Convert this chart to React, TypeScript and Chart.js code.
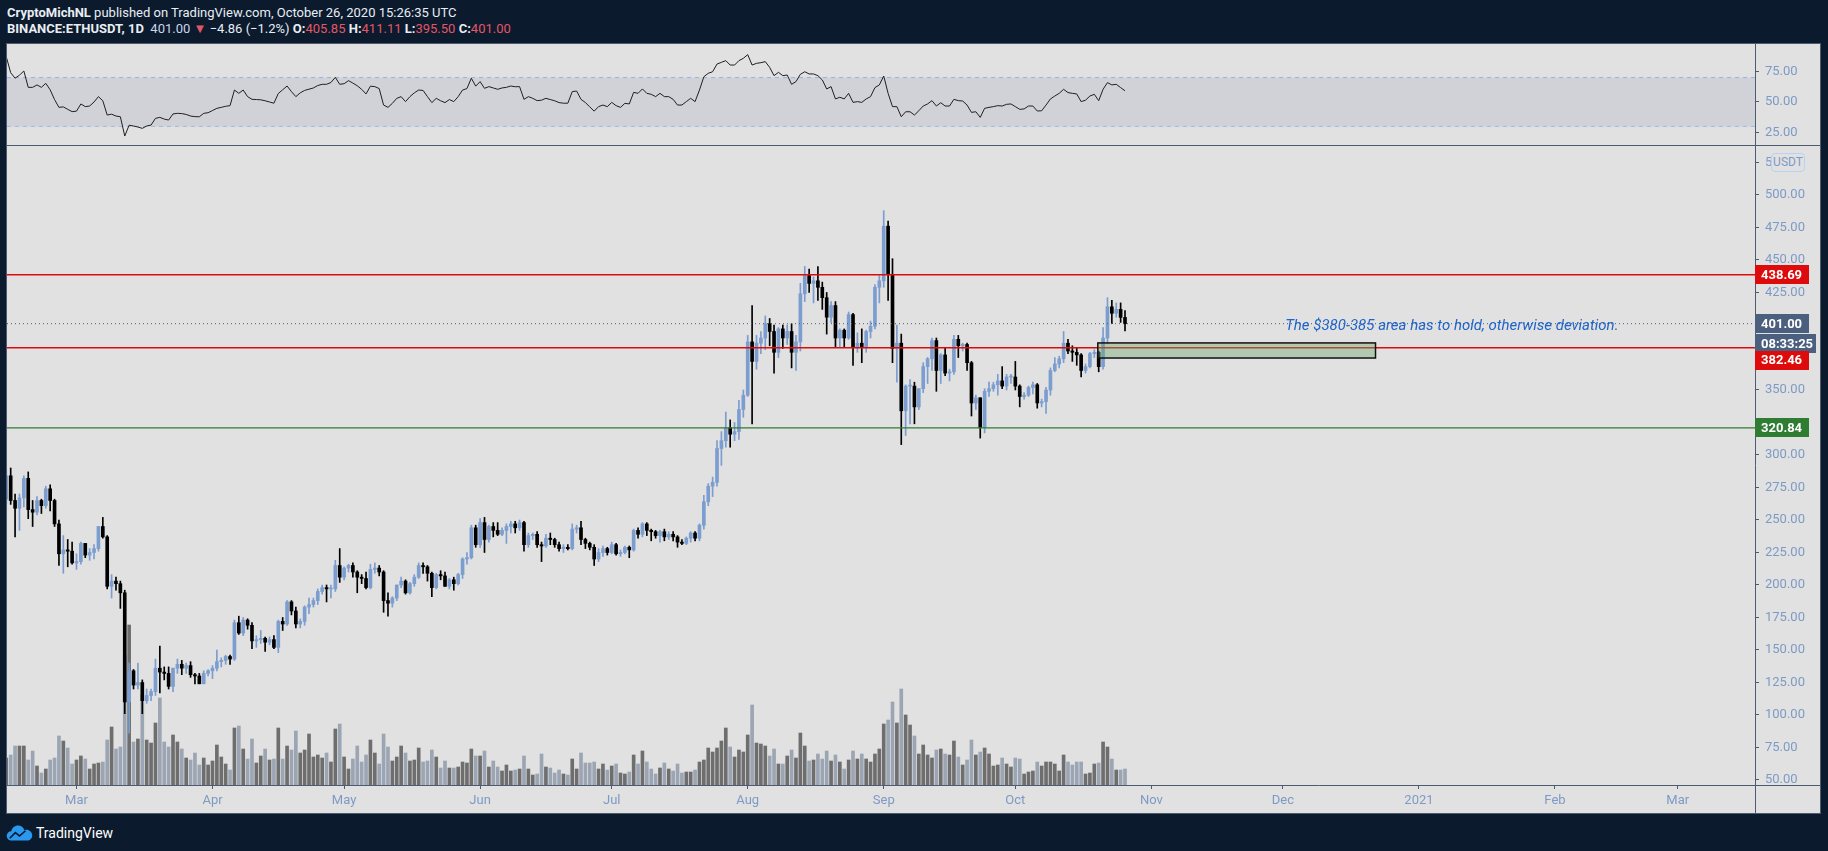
import React, { useEffect, useRef } from 'react';
import { Chart, registerables } from 'chart.js';

Chart.register(...registerables);

// ---------------- DATA (BINANCE:ETHUSDT, 1D, from 2020-02-14) ----------------
// each candle: [open, high, low, close]
const feb2020 = [
  [266, 288, 262, 284], [284, 290, 262, 265], [265, 270, 237, 259], [259, 270, 242, 267],
  [267, 284, 260, 282], [282, 287, 251, 258], [258, 265, 245, 256], [256, 268, 254, 265],
  [265, 266, 255, 261], [261, 276, 259, 274], [274, 277, 257, 265], [265, 266, 245, 247],
  [247, 250, 215, 224], [224, 238, 209, 227], [227, 235, 214, 226], [226, 233, 216, 217],
];
const mar2020 = [
  [217, 224, 212, 218], [218, 233, 216, 232], [232, 232, 221, 223], [223, 228, 219, 225],
  [225, 231, 220, 228], [228, 245, 226, 245], [245, 252, 236, 237], [237, 238, 197, 199],
  [199, 208, 190, 203], [203, 206, 196, 201], [201, 203, 182, 194], [194, 196, 101, 110],
  [110, 140, 86, 134], [134, 135, 120, 123], [123, 140, 120, 125], [125, 127, 101, 111],
  [111, 120, 109, 115], [115, 120, 111, 118], [118, 143, 115, 136], [136, 153, 117, 133],
  [133, 137, 127, 132], [132, 137, 120, 122], [122, 136, 118, 136], [136, 143, 132, 139],
  [139, 142, 131, 136], [136, 140, 132, 138], [138, 141, 129, 131], [131, 132, 124, 130],
  [130, 132, 124, 124], [124, 134, 124, 132], [132, 135, 130, 134],
];
const apr2020 = [
  [134, 138, 128, 136], [136, 150, 134, 141], [141, 144, 137, 142], [142, 146, 139, 145],
  [145, 146, 139, 143], [143, 173, 142, 171], [171, 176, 162, 163], [163, 175, 161, 173],
  [173, 174, 166, 169], [169, 171, 151, 157], [157, 161, 152, 158], [158, 165, 155, 159],
  [159, 160, 149, 156], [156, 160, 154, 158], [158, 161, 151, 152], [152, 173, 148, 172],
  [172, 175, 165, 170], [170, 188, 169, 187], [187, 188, 177, 180], [180, 183, 167, 170],
  [170, 174, 167, 172], [172, 184, 169, 183], [183, 190, 178, 185], [185, 190, 183, 188],
  [188, 197, 185, 195], [195, 200, 193, 198], [198, 200, 187, 197], [197, 200, 190, 197],
  [197, 219, 195, 215], [215, 228, 202, 206],
];
const may2020 = [
  [206, 214, 204, 213], [213, 216, 210, 215], [215, 217, 206, 210], [210, 211, 194, 206],
  [206, 208, 201, 205], [205, 210, 197, 198], [198, 216, 197, 212], [212, 217, 209, 213],
  [213, 215, 207, 210], [210, 211, 179, 188], [188, 194, 176, 186], [186, 191, 183, 190],
  [190, 200, 188, 200], [200, 206, 198, 203], [203, 204, 193, 194], [194, 202, 193, 201],
  [201, 208, 199, 206], [206, 217, 205, 215], [215, 217, 209, 214], [214, 215, 203, 209],
  [209, 210, 191, 198], [198, 209, 197, 208], [208, 211, 204, 207], [207, 210, 199, 199],
  [199, 205, 197, 204], [204, 206, 196, 201], [201, 209, 200, 208], [208, 221, 205, 220],
  [220, 225, 216, 221], [221, 246, 220, 244], [244, 246, 229, 231],
];
const jun2020 = [
  [231, 251, 229, 248], [248, 252, 225, 235], [235, 246, 233, 245], [245, 248, 237, 242],
  [242, 248, 238, 239], [239, 244, 238, 242], [242, 247, 232, 245], [245, 249, 240, 247],
  [247, 249, 240, 244], [244, 250, 242, 248], [248, 249, 226, 231], [231, 240, 229, 238],
  [238, 240, 235, 239], [239, 241, 229, 231], [231, 233, 218, 230], [230, 239, 229, 236],
  [236, 240, 231, 235], [235, 236, 229, 231], [231, 233, 226, 228], [228, 231, 225, 229],
  [229, 231, 227, 228], [228, 247, 227, 243], [243, 246, 240, 244], [244, 249, 231, 235],
  [235, 236, 228, 232], [232, 233, 227, 229], [229, 231, 215, 220], [220, 228, 218, 225],
  [225, 230, 222, 228], [228, 229, 223, 225],
];
const jul2020 = [
  [225, 233, 224, 231], [231, 232, 223, 224], [224, 227, 222, 225], [225, 230, 224, 229],
  [229, 230, 221, 227], [227, 243, 226, 242], [242, 244, 236, 239], [239, 248, 237, 247],
  [247, 248, 238, 242], [242, 243, 234, 241], [241, 242, 236, 238], [238, 242, 233, 241],
  [241, 243, 234, 237], [237, 241, 235, 239], [239, 241, 234, 237], [237, 238, 229, 233],
  [233, 235, 231, 232], [232, 237, 231, 236], [236, 241, 233, 240], [240, 241, 234, 236],
  [236, 247, 234, 246], [246, 269, 243, 264], [264, 278, 261, 276], [276, 283, 268, 279],
  [279, 311, 276, 305], [305, 318, 292, 311], [311, 333, 306, 321], [321, 327, 306, 316],
  [316, 325, 311, 318], [318, 342, 312, 335], [335, 350, 329, 346],
];
const aug2020 = [
  [346, 392, 345, 387], [387, 415, 324, 372], [372, 392, 366, 386], [386, 395, 378, 390],
  [390, 407, 381, 401], [401, 405, 384, 395], [395, 400, 363, 379], [379, 398, 375, 397],
  [397, 400, 382, 390], [390, 400, 385, 395], [395, 401, 367, 379], [379, 392, 365, 387],
  [387, 432, 380, 424], [424, 445, 418, 438], [438, 443, 425, 432], [432, 437, 417, 434],
  [434, 445, 419, 429], [429, 433, 412, 421], [421, 425, 393, 406], [406, 418, 402, 415],
  [415, 418, 383, 390], [390, 397, 383, 396], [396, 397, 383, 390], [390, 410, 389, 408],
  [408, 409, 369, 383], [383, 394, 379, 386], [386, 397, 371, 383], [383, 396, 379, 395],
  [395, 403, 390, 399], [399, 431, 397, 429], [429, 438, 417, 434],
];
const sep2020 = [
  [434, 488, 429, 476], [476, 480, 419, 439], [439, 451, 371, 382], [382, 400, 356, 386],
  [386, 393, 308, 334], [334, 354, 315, 353], [353, 358, 324, 353], [353, 356, 324, 337],
  [337, 351, 335, 351], [351, 371, 348, 368], [368, 375, 355, 374], [374, 390, 365, 388],
  [388, 390, 349, 365], [365, 378, 355, 377], [377, 382, 361, 363], [363, 366, 357, 364],
  [364, 392, 362, 389], [389, 392, 375, 384], [384, 386, 380, 385], [385, 386, 365, 371],
  [371, 372, 330, 340], [340, 346, 335, 344], [344, 344, 313, 321], [321, 351, 317, 349],
  [349, 356, 345, 351], [351, 356, 349, 354], [354, 362, 346, 357], [357, 368, 351, 353],
  [353, 362, 350, 360], [360, 362, 355, 360],
];
const oct2020 = [
  [360, 372, 350, 353], [353, 354, 337, 345], [345, 348, 343, 346], [346, 353, 345, 352],
  [352, 356, 347, 354], [354, 355, 336, 340], [340, 343, 337, 341], [341, 352, 332, 350],
  [350, 367, 346, 365], [365, 375, 364, 370], [370, 376, 367, 374], [374, 395, 371, 386],
  [386, 389, 378, 380], [380, 384, 372, 379], [379, 382, 369, 377], [377, 378, 360, 365],
  [365, 370, 363, 368], [368, 379, 367, 378], [378, 381, 375, 379], [379, 380, 364, 368],
  [368, 398, 366, 390], [390, 421, 386, 414], [414, 419, 401, 409], [409, 417, 406, 412],
  [412, 417, 402, 405.85], [405.85, 411.11, 395.5, 401.0],
];

// volume (relative units)
const volFeb = [27, 30, 39, 39, 39, 25, 34, 19, 12, 16, 25, 27, 49, 44, 37, 21];
const volMar = [25, 29, 26, 16, 21, 22, 23, 45, 58, 36, 38, 130, 160, 43, 46, 90, 45, 42, 62, 87, 43, 38, 50, 43, 36, 27, 25, 32, 20, 27, 20];
const volApr = [24, 40, 28, 21, 15, 57, 59, 36, 26, 46, 22, 29, 36, 25, 26, 57, 26, 39, 35, 54, 32, 35, 51, 28, 30, 27, 32, 23, 56, 61];
const volMay = [28, 16, 26, 39, 23, 30, 45, 32, 21, 51, 38, 24, 28, 39, 32, 24, 25, 37, 23, 24, 35, 28, 17, 24, 17, 17, 18, 23, 22, 36, 29];
const volJun = [29, 34, 18, 24, 18, 14, 20, 14, 15, 16, 29, 16, 10, 11, 31, 18, 17, 12, 15, 11, 10, 26, 16, 32, 22, 22, 23, 16, 21, 15];
const volJul = [19, 21, 12, 11, 13, 30, 21, 34, 23, 16, 11, 17, 22, 16, 14, 21, 12, 13, 13, 15, 23, 25, 37, 33, 37, 44, 57, 38, 28, 35, 33];
const volAug = [50, 80, 42, 41, 39, 29, 36, 21, 21, 29, 35, 27, 52, 39, 24, 25, 31, 26, 34, 24, 30, 23, 16, 25, 34, 26, 31, 26, 23, 31, 36];
const volSep = [61, 65, 83, 62, 96, 70, 60, 49, 31, 40, 30, 27, 35, 36, 31, 30, 44, 28, 20, 25, 45, 30, 33, 37, 31, 19, 20, 27, 21, 18];
const volOct = [27, 26, 11, 13, 14, 23, 19, 23, 23, 21, 14, 30, 23, 20, 23, 23, 11, 12, 21, 22, 43, 38, 26, 15, 15, 16];

// RSI (14)
const rsiFeb = [87, 74, 69.5, 72, 75.4, 62, 62, 64, 62, 65.3, 60, 52, 45.6, 46, 44, 42.1];
const rsiMar = [42.5, 48.4, 46.2, 46.7, 50, 54.4, 51, 39.3, 40, 38.5, 37.9, 22.1, 31, 30.3, 29.5, 28.4, 30.3, 31.1, 36.6, 37.4, 36, 35.2, 40.2, 40.7, 40.5, 39.8, 38.5, 38, 37.9, 40.7, 41.2];
const rsiApr = [43, 44.8, 45.6, 46.5, 47, 59.8, 57.1, 59.8, 54.4, 52.2, 52, 51.8, 51, 50, 49, 57, 60, 63.1, 58.5, 54.4, 57.5, 59.5, 60.5, 61.5, 63.5, 64.5, 64.5, 66, 70.2, 64.5];
const rsiMay = [65, 67.5, 65.5, 63.3, 60.4, 56.6, 63, 62.6, 61, 47.5, 45.6, 48.9, 53, 54.4, 50.3, 54.4, 57.5, 59.8, 59.5, 54.4, 49.5, 53, 51, 49.5, 52, 50.3, 54.4, 59.8, 61, 69.5, 63];
const rsiJun = [66.7, 61.2, 62.6, 61.5, 60.4, 61.5, 62, 63.1, 62.5, 62.6, 52.2, 54.4, 53, 51.1, 51.5, 53, 52, 51, 49.5, 49, 49, 58.5, 59, 52.2, 49.5, 46, 42.5, 46.2, 47.5, 46.2];
const rsiJul = [49.7, 47, 45.6, 48.9, 48.4, 57.9, 57.1, 60.7, 57.1, 56.3, 54.4, 57.1, 54.4, 54.4, 52.2, 47.5, 47.5, 50.3, 53, 50.3, 59.8, 70.7, 73.5, 74.8, 81.1, 82.5, 83.9, 80.3, 80.3, 83.9, 85.8];
const rsiAug = [88.8, 80.3, 81.7, 82.2, 83.1, 78.4, 71.6, 74.3, 71.6, 72.1, 64.5, 66.7, 72.7, 74.8, 73, 73, 71.6, 68.1, 60.7, 62.6, 52.5, 53.9, 52.5, 57.1, 49.7, 50.3, 49.7, 52.5, 54.4, 61.8, 64];
const rsiSep = [71.3, 57.1, 46.2, 46.2, 37.9, 42, 42, 39.3, 42.8, 46.7, 48.4, 51.1, 46.7, 49.4, 46.7, 46.7, 52.2, 51.1, 50.8, 47.5, 41.5, 42, 37.4, 44.8, 45.6, 46.2, 47, 46.7, 48.1, 48.4];
const rsiOct = [46.2, 44, 44.3, 46.7, 46.7, 42.6, 42.8, 47.5, 52.5, 54.9, 57.1, 60.4, 57.7, 57.1, 56.6, 50.3, 51.5, 54.9, 56.3, 51.1, 60.4, 65.9, 64, 64.5, 61.8, 59.2];

// time axis: day index counted from 2020-02-14
const monthTickDays = [16, 47, 77, 108, 138, 169, 200, 230, 261, 291, 322, 353, 381];
const monthTickLabels = ['Mar', 'Apr', 'May', 'Jun', 'Jul', 'Aug', 'Sep', 'Oct', 'Nov', 'Dec', '2021', 'Feb', 'Mar'];
const visibleDays = [0.16, 398.6];

// price axis
const priceRange = [46.15, 538.46];
const priceTickValues = [50, 75, 100, 125, 150, 175, 200, 225, 250, 275, 300, 350, 425, 450, 475, 500, 525];
const rsiRange = [14.75, 98.36];
const rsiTickValues = [25, 50, 75];
const rsiBand = [30, 70];

// levels & drawings
const resistanceLevels = [438.69, 382.46];
const supportLevel = 320.84;
const lastPrice = 401.0;
const countdownText = '08:33:25';
const zoneDays = [248.8, 312.1];
const zonePrices = [374.6, 386.2];
const noteText = 'The $380-385 area has to hold, otherwise deviation.';
const noteAnchor = [291.5, 399.2];

// ---------------- derived series ----------------
const candles = [...feb2020, ...mar2020, ...apr2020, ...may2020, ...jun2020, ...jul2020, ...aug2020, ...sep2020, ...oct2020];
const volumes = [...volFeb, ...volMar, ...volApr, ...volMay, ...volJun, ...volJul, ...volAug, ...volSep, ...volOct];
const rsiValues = [...rsiFeb, ...rsiMar, ...rsiApr, ...rsiMay, ...rsiJun, ...rsiJul, ...rsiAug, ...rsiSep, ...rsiOct];

// ---------------- styles ----------------
const BG = '#0b1a2d';
const PANEL = '#e1e1e1';
const FRAME = '#4c5b70';
const AXIS_TEXT = '#7d9ac6';
const UP = '#7b9dcf';
const DOWN = '#000000';
const VOL_UP = '#6e6e6e';
const VOL_DOWN = '#9ba5b3';
const RED = '#dd0b0b';
const GREEN = '#2e7d32';
const SLATE = '#4b5f7e';
const FONT = 'Roboto, "Noto Sans", sans-serif';

const noPadding = (s: any) => {
  s.paddingTop = 0;
  s.paddingBottom = 0;
  s.paddingLeft = 0;
  s.paddingRight = 0;
};

const hLine = (value: number, color: string, width: number, dash: number[] = []) => ({
  type: 'line' as const,
  data: [
    { x: visibleDays[0], y: value },
    { x: visibleDays[1], y: value },
  ],
  borderColor: color,
  borderWidth: width,
  borderDash: dash,
  pointRadius: 0,
  fill: false,
  order: 1,
  yAxisID: 'y',
});

const overlayPlugin = {
  id: 'overlayDrawings',
  afterDatasetsDraw(chart: any) {
    const { ctx, chartArea, scales } = chart;
    const x = scales.x;
    const y = scales.y;
    ctx.save();
    ctx.beginPath();
    ctx.rect(chartArea.left, chartArea.top, chartArea.right - chartArea.left, chartArea.bottom - chartArea.top);
    ctx.clip();
    const x0 = x.getPixelForValue(zoneDays[0]);
    const x1 = x.getPixelForValue(zoneDays[1]);
    const y0 = y.getPixelForValue(zonePrices[1]);
    const y1 = y.getPixelForValue(zonePrices[0]);
    ctx.fillStyle = 'rgba(112,168,112,0.42)';
    ctx.fillRect(x0, y0, x1 - x0, y1 - y0);
    ctx.strokeStyle = '#111111';
    ctx.lineWidth = 1.5;
    ctx.strokeRect(x0, y0, x1 - x0, y1 - y0);
    ctx.font = `italic 15px ${FONT}`;
    ctx.fillStyle = '#1f64c8';
    ctx.textBaseline = 'middle';
    ctx.textAlign = 'left';
    ctx.fillText(noteText, x.getPixelForValue(noteAnchor[0]), y.getPixelForValue(noteAnchor[1]));
    ctx.restore();
  },
  afterDraw(chart: any) {
    const { ctx, chartArea, scales } = chart;
    const y = scales.y;
    const left = chartArea.right;
    const tag = (cy: number, w: number, bg: string, text: string) => {
      const h = 19;
      ctx.fillStyle = bg;
      ctx.fillRect(left, Math.round(cy - h / 2), w, h);
      ctx.fillStyle = '#ffffff';
      ctx.font = `bold 13px ${FONT}`;
      ctx.textBaseline = 'middle';
      ctx.textAlign = 'left';
      ctx.fillText(text, left + 6, Math.round(cy) + 0.5);
    };
    ctx.save();
    const lp = y.getPixelForValue(lastPrice);
    const cd = lp + 20;
    tag(lp, 54, SLATE, lastPrice.toFixed(2));
    tag(cd, 61, SLATE, countdownText);
    // price label is pushed below the countdown label, as the platform does
    tag(Math.max(y.getPixelForValue(resistanceLevels[1]), cd + 16.5), 54, RED, resistanceLevels[1].toFixed(2));
    tag(y.getPixelForValue(resistanceLevels[0]), 54, RED, resistanceLevels[0].toFixed(2));
    tag(y.getPixelForValue(supportLevel), 54, GREEN, supportLevel.toFixed(2));
    ctx.restore();
  },
};

function RsiPane() {
  const ref = useRef<HTMLCanvasElement>(null);
  useEffect(() => {
    if (!ref.current) return;
    const chart = new Chart(ref.current, {
      type: 'line',
      data: {
        datasets: [
          {
            data: rsiValues.map((v, i) => ({ x: i, y: v })),
            borderColor: '#1e1e1e',
            borderWidth: 1,
            pointRadius: 0,
            tension: 0,
            fill: false,
            order: 0,
          },
          {
            data: [
              { x: visibleDays[0], y: rsiBand[1] },
              { x: visibleDays[1], y: rsiBand[1] },
            ],
            borderColor: '#8db3ea',
            borderWidth: 1,
            borderDash: [4, 4],
            pointRadius: 0,
            fill: '+1',
            backgroundColor: 'rgba(196,198,210,0.55)',
            order: 1,
          },
          {
            data: [
              { x: visibleDays[0], y: rsiBand[0] },
              { x: visibleDays[1], y: rsiBand[0] },
            ],
            borderColor: '#8db3ea',
            borderWidth: 1,
            borderDash: [4, 4],
            pointRadius: 0,
            fill: false,
            order: 2,
          },
        ],
      },
      options: {
        animation: false,
        responsive: false,
        events: [],
        layout: { padding: 0 },
        plugins: { legend: { display: false }, tooltip: { enabled: false } },
        scales: {
          x: { type: 'linear', display: false, min: visibleDays[0], max: visibleDays[1] },
          y: {
            position: 'right',
            min: rsiRange[0],
            max: rsiRange[1],
            afterBuildTicks: (s: any) => {
              s.ticks = rsiTickValues.map((v) => ({ value: v }));
            },
            afterFit: (s: any) => {
              s.width = 66;
              noPadding(s);
            },
            grid: { drawOnChartArea: false, color: FRAME, tickLength: 4 },
            border: { color: FRAME },
            ticks: {
              color: AXIS_TEXT,
              font: { size: 13, family: FONT },
              padding: 6,
              callback: (v: any) => Number(v).toFixed(2),
            },
          },
        },
      } as any,
    });
    return () => chart.destroy();
  }, []);
  return (
    <canvas
      ref={ref}
      width={1814}
      height={102}
      style={{ position: 'absolute', left: 7, top: 43, width: 1814, height: 102 }}
    />
  );
}

function PricePane() {
  const ref = useRef<HTMLCanvasElement>(null);
  useEffect(() => {
    if (!ref.current) return;
    const candleColors = candles.map((c) => (c[3] >= c[0] ? UP : DOWN));
    const volColors = candles.map((c) => (c[3] >= c[0] ? VOL_UP : VOL_DOWN));
    const chart = new Chart(ref.current, {
      type: 'bar',
      data: {
        datasets: [
          hLine(resistanceLevels[0], RED, 1.4),
          hLine(resistanceLevels[1], RED, 1.4),
          hLine(supportLevel, GREEN, 1.2),
          hLine(lastPrice, '#4a5a72', 1, [1, 3]),
          {
            type: 'bar',
            data: candles.map((c, i) => ({ x: i, y: [c[0], c[3]] })),
            backgroundColor: candleColors,
            barThickness: 3,
            minBarLength: 1,
            grouped: false,
            order: 4,
            yAxisID: 'y',
          },
          {
            type: 'bar',
            data: candles.map((c, i) => ({ x: i, y: [c[2], c[1]] })),
            backgroundColor: candleColors,
            barThickness: 1,
            grouped: false,
            order: 5,
            yAxisID: 'y',
          },
          {
            type: 'bar',
            data: volumes.map((v, i) => ({ x: i, y: v })),
            backgroundColor: volColors,
            barThickness: 3,
            grouped: false,
            order: 10,
            yAxisID: 'yv',
          },
        ],
      },
      options: {
        animation: false,
        responsive: false,
        events: [],
        layout: { padding: 0 },
        plugins: { legend: { display: false }, tooltip: { enabled: false } },
        scales: {
          x: {
            type: 'linear',
            min: visibleDays[0],
            max: visibleDays[1],
            offset: false,
            afterBuildTicks: (s: any) => {
              s.ticks = monthTickDays.map((v) => ({ value: v }));
            },
            afterFit: (s: any) => {
              s.height = 29;
              noPadding(s);
            },
            grid: { drawOnChartArea: false, offset: false, color: FRAME, tickLength: 4 },
            border: { color: FRAME },
            ticks: {
              autoSkip: false,
              maxRotation: 0,
              color: AXIS_TEXT,
              font: { size: 13, family: FONT },
              padding: 4,
              callback: (_v: any, idx: number) => monthTickLabels[idx],
            },
          },
          y: {
            position: 'right',
            min: priceRange[0],
            max: priceRange[1],
            afterBuildTicks: (s: any) => {
              s.ticks = priceTickValues.map((v) => ({ value: v }));
            },
            afterFit: (s: any) => {
              s.width = 66;
              noPadding(s);
            },
            grid: { drawOnChartArea: false, color: FRAME, tickLength: 4 },
            border: { color: FRAME },
            ticks: {
              color: AXIS_TEXT,
              font: { size: 13, family: FONT },
              padding: 6,
              callback: (v: any) => Number(v).toFixed(2),
            },
          },
          yv: { display: false, min: 0, max: 640 },
        },
      } as any,
      plugins: [overlayPlugin],
    });
    return () => chart.destroy();
  }, []);
  return (
    <canvas
      ref={ref}
      width={1814}
      height={669}
      style={{ position: 'absolute', left: 7, top: 145, width: 1814, height: 669 }}
    />
  );
}

function Logo() {
  return (
    <div style={{ position: 'absolute', left: 6, top: 823, height: 20, display: 'flex', alignItems: 'center' }}>
      <svg width="27" height="18" viewBox="0 0 36 24">
        <path
          d="M8 22 C3.5 22 1 19 1 15.5 C1 12 3.8 9.6 7 9.6 C8 5 11.6 2 16 2 C20.2 2 23.4 4.6 24.4 8.2 C25.2 7.9 26 7.8 27 7.8 C31.5 7.8 35 11.2 35 15.2 C35 19 32 22 28.2 22 Z"
          fill="#2b98f0"
        />
        <path d="M5 19 L12.5 11.5 L18 16 L26 9" stroke="#0b1a2d" strokeWidth="2.2" fill="none" />
      </svg>
      <span style={{ color: '#ffffff', font: `14px ${FONT}`, marginLeft: 3 }}>TradingView</span>
    </div>
  );
}

export default function App() {
  const red = '#e25766';
  return (
    <div
      style={{
        position: 'fixed',
        left: 0,
        top: 0,
        width: 1828,
        height: 851,
        background: BG,
        overflow: 'hidden',
        fontFamily: FONT,
      }}
    >
      <div style={{ position: 'absolute', left: 7, top: 5, color: '#e9edf3', font: `13px ${FONT}`, whiteSpace: 'nowrap' }}>
        <b>CryptoMichNL</b> published on TradingView.com, October 26, 2020 15:26:35 UTC
      </div>
      <div style={{ position: 'absolute', left: 7, top: 21, color: '#e9edf3', font: `13px ${FONT}`, whiteSpace: 'nowrap' }}>
        <b>BINANCE:ETHUSDT, 1D</b>&nbsp; <span style={{ color: '#c9d6ea' }}>401.00</span>{' '}
        <span style={{ color: red }}>▼</span> −4.86 (−1.2%) <b>O:</b>
        <span style={{ color: red }}>405.85</span> <b>H:</b>
        <span style={{ color: red }}>411.11</span> <b>L:</b>
        <span style={{ color: red }}>395.50</span> <b>C:</b>
        <span style={{ color: red }}>401.00</span>
      </div>

      <div style={{ position: 'absolute', left: 6, top: 43, width: 1815, height: 771, background: PANEL }} />
      <RsiPane />
      <PricePane />

      {/* frame lines */}
      <div style={{ position: 'absolute', left: 6, top: 43, width: 1815, height: 771, border: `1px solid ${FRAME}`, boxSizing: 'border-box', pointerEvents: 'none' }} />
      <div style={{ position: 'absolute', left: 6, top: 145, width: 1815, height: 1, background: FRAME }} />
      <div style={{ position: 'absolute', left: 1755, top: 785, width: 66, height: 1, background: FRAME }} />
      <div style={{ position: 'absolute', left: 1755, top: 785, width: 1, height: 29, background: FRAME }} />

      {/* currency badge */}
      <div
        style={{
          position: 'absolute',
          left: 1771,
          top: 153,
          width: 34,
          height: 19,
          boxSizing: 'border-box',
          border: '1px solid #b7d2f4',
          borderRadius: 4,
          background: PANEL,
          color: AXIS_TEXT,
          font: `12px ${FONT}`,
          lineHeight: '17px',
          textAlign: 'center',
        }}
      >
        USDT
      </div>

      <Logo />
    </div>
  );
}
